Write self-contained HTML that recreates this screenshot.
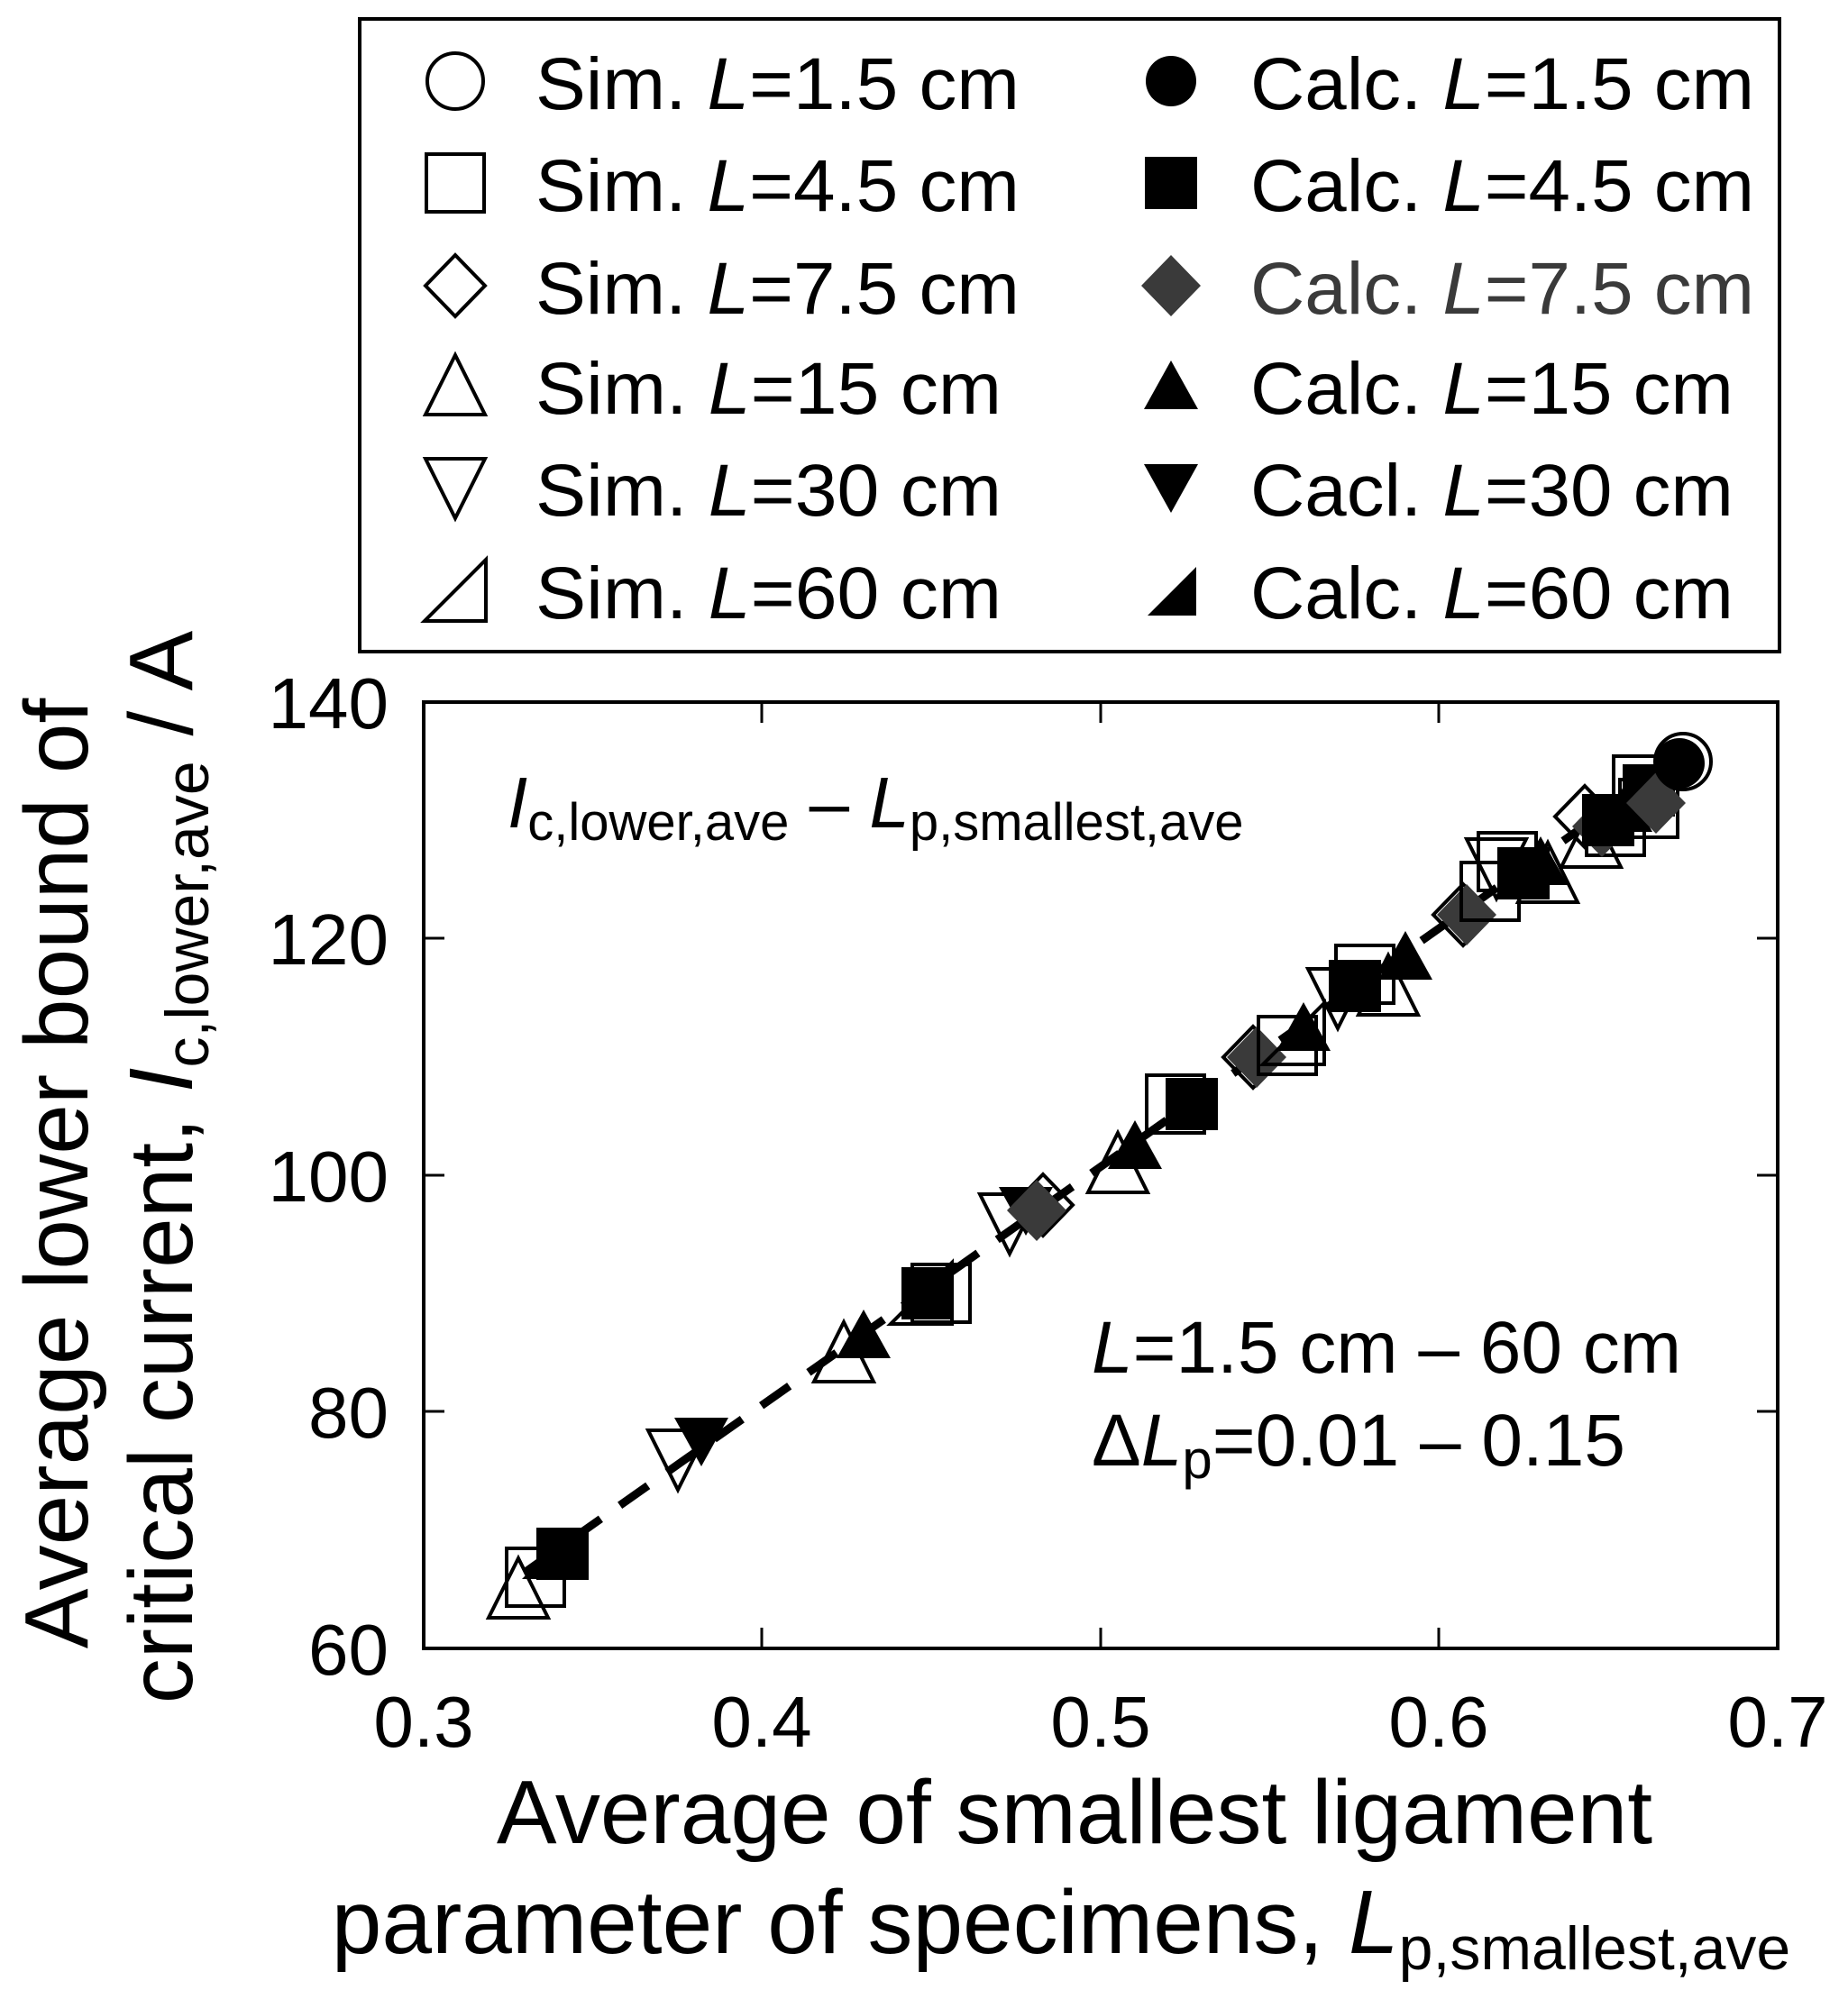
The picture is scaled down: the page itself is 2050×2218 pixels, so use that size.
<!DOCTYPE html>
<html><head><meta charset="utf-8"><style>html,body{margin:0;padding:0;background:#fff}svg{display:block}text{font-family:"Liberation Sans",Arial,sans-serif;fill:#000}</style></head>
<body>
<svg width="2050" height="2218" viewBox="0 0 2050 2218" xmlns="http://www.w3.org/2000/svg">
<defs>
<circle id="oc" r="31" fill="#fff" stroke="#000" stroke-width="4"/>
<circle id="fc" r="28" fill="#000"/>
<rect id="os" x="-32" y="-32" width="64" height="64" fill="none" stroke="#000" stroke-width="4"/>
<rect id="fs" x="-29" y="-29" width="58" height="58" fill="#000"/>
<polygon id="od" points="0,-34 33,0 0,34 -33,0" fill="none" stroke="#000" stroke-width="4"/>
<polygon id="fd" points="0,-34 33,0 0,34 -33,0" fill="#3a3a3a"/>
<polygon id="ou" points="0,-34 33,32 -33,32" fill="none" stroke="#000" stroke-width="4"/>
<polygon id="fu" points="0,-28 30,26 -30,26" fill="#000"/>
<polygon id="ov" points="0,34 33,-32 -33,-32" fill="none" stroke="#000" stroke-width="4"/>
<polygon id="fv" points="0,28 30,-26 -30,-26" fill="#000"/>
<polygon id="or" points="-34,34 34,34 34,-34" fill="none" stroke="#000" stroke-width="4"/>
<polygon id="fr" points="-26,28 28,28 28,-26" fill="#000"/>
</defs>

<!-- Legend -->
<rect x="399" y="21" width="1575" height="702" fill="#fff" stroke="#000" stroke-width="4"/>
<use href="#oc" x="505" y="90"/><use href="#os" x="505" y="203"/><use href="#od" x="505" y="317"/>
<use href="#ou" x="505" y="428"/><use href="#ov" x="505" y="541"/><use href="#or" x="505" y="655"/>
<use href="#fc" x="1299" y="90"/><use href="#fs" x="1299" y="203"/><use href="#fd" x="1299" y="317"/>
<use href="#fu" x="1299" y="428"/><use href="#fv" x="1299" y="541"/><use href="#fr" x="1299" y="655"/>
<g font-size="82">
<text x="594" y="121" textLength="537" lengthAdjust="spacingAndGlyphs">Sim. <tspan font-style="italic">L</tspan>=1.5 cm</text>
<text x="594" y="234" textLength="537" lengthAdjust="spacingAndGlyphs">Sim. <tspan font-style="italic">L</tspan>=4.5 cm</text>
<text x="594" y="348" textLength="537" lengthAdjust="spacingAndGlyphs">Sim. <tspan font-style="italic">L</tspan>=7.5 cm</text>
<text x="594" y="459" textLength="517" lengthAdjust="spacingAndGlyphs">Sim. <tspan font-style="italic">L</tspan>=15 cm</text>
<text x="594" y="572" textLength="517" lengthAdjust="spacingAndGlyphs">Sim. <tspan font-style="italic">L</tspan>=30 cm</text>
<text x="594" y="686" textLength="517" lengthAdjust="spacingAndGlyphs">Sim. <tspan font-style="italic">L</tspan>=60 cm</text>
<text x="1387" y="121" textLength="559" lengthAdjust="spacingAndGlyphs">Calc. <tspan font-style="italic">L</tspan>=1.5 cm</text>
<text x="1387" y="234" textLength="559" lengthAdjust="spacingAndGlyphs">Calc. <tspan font-style="italic">L</tspan>=4.5 cm</text>
<text x="1387" y="348" textLength="559" lengthAdjust="spacingAndGlyphs" style="fill:#3a3a3a">Calc. <tspan font-style="italic" style="fill:#3a3a3a">L</tspan>=7.5 cm</text>
<text x="1387" y="459" textLength="536" lengthAdjust="spacingAndGlyphs">Calc. <tspan font-style="italic">L</tspan>=15 cm</text>
<text x="1387" y="572" textLength="536" lengthAdjust="spacingAndGlyphs">Cacl. <tspan font-style="italic">L</tspan>=30 cm</text>
<text x="1387" y="686" textLength="536" lengthAdjust="spacingAndGlyphs">Calc. <tspan font-style="italic">L</tspan>=60 cm</text>
</g>

<!-- Axes frame -->
<rect x="470" y="779" width="1502" height="1050" fill="none" stroke="#000" stroke-width="4"/>
<g stroke="#000" stroke-width="3">
<line x1="845" y1="1829" x2="845" y2="1806"/><line x1="1221" y1="1829" x2="1221" y2="1806"/><line x1="1596" y1="1829" x2="1596" y2="1806"/>
<line x1="845" y1="779" x2="845" y2="802"/><line x1="1221" y1="779" x2="1221" y2="802"/><line x1="1596" y1="779" x2="1596" y2="802"/>
<line x1="470" y1="1041" x2="493" y2="1041"/><line x1="470" y1="1304" x2="493" y2="1304"/><line x1="470" y1="1566" x2="493" y2="1566"/>
<line x1="1972" y1="1041" x2="1949" y2="1041"/><line x1="1972" y1="1304" x2="1949" y2="1304"/><line x1="1972" y1="1566" x2="1949" y2="1566"/>
</g>
<g font-size="80" text-anchor="end">
<text x="431" y="808">140</text><text x="431" y="1070">120</text><text x="431" y="1333">100</text><text x="431" y="1595">80</text><text x="431" y="1858">60</text>
</g>
<g font-size="80" text-anchor="middle">
<text x="470" y="1938">0.3</text><text x="845" y="1938">0.4</text><text x="1221" y="1938">0.5</text><text x="1596" y="1938">0.6</text><text x="1972" y="1938">0.7</text>
</g>

<!-- Axis titles -->
<text x="1192" y="2045" font-size="100" text-anchor="middle">Average of smallest ligament</text>
<text x="1177" y="2167" font-size="100" text-anchor="middle">parameter of specimens, <tspan font-style="italic">L</tspan><tspan font-size="68" dy="18">p,smallest,ave</tspan></text>
<text transform="translate(97,1302) rotate(-90)" font-size="100" text-anchor="middle">Average lower bound of</text>
<text transform="translate(213,1295) rotate(-90)" font-size="100" text-anchor="middle">critical current, <tspan font-style="italic">I</tspan><tspan font-size="68" dy="18">c,lower,ave</tspan><tspan dy="-18"> / A</tspan></text>

<!-- Annotations -->
<text x="563" y="918" font-size="80"><tspan font-style="italic">I</tspan><tspan font-size="58" dy="14">c,lower,ave</tspan><tspan dy="-14"> – </tspan><tspan font-style="italic">L</tspan><tspan font-size="58" dy="14">p,smallest,ave</tspan></text>
<text x="1211" y="1523" font-size="82"><tspan font-style="italic">L</tspan>=1.5 cm – 60 cm</text>
<text x="1211" y="1626" font-size="82">Δ<tspan font-style="italic">L</tspan><tspan font-size="60" dy="14">p</tspan><tspan dy="-14">=0.01 – 0.15</tspan></text>

<!-- Dashed fit line -->
<line x1="583" y1="1744" x2="1859" y2="845" stroke="#000" stroke-width="9" stroke-dasharray="38,26"/>

<!-- Data -->
<use href="#ou" x="575" y="1763"/><use href="#os" x="594" y="1750"/><use href="#fr" x="605" y="1724"/><use href="#fs" x="624" y="1724"/>
<use href="#ov" x="752" y="1619"/><use href="#fv" x="778" y="1599"/>
<use href="#ou" x="936" y="1501"/><use href="#fu" x="958" y="1481"/>
<use href="#or" x="1022" y="1435"/><use href="#os" x="1044" y="1435"/><use href="#fs" x="1029" y="1435"/>
<use href="#ov" x="1120" y="1357"/><use href="#fv" x="1138" y="1343"/><use href="#od" x="1157" y="1337"/><use href="#fd" x="1150" y="1343"/>
<use href="#ou" x="1240" y="1291"/><use href="#fu" x="1259" y="1271"/>
<use href="#os" x="1304" y="1225"/><use href="#fs" x="1322" y="1225"/>
<use href="#od" x="1390" y="1173"/><use href="#fd" x="1394" y="1173"/>
<use href="#os" x="1428" y="1160"/><use href="#or" x="1435" y="1147"/><use href="#fu" x="1446" y="1140"/>
<use href="#ov" x="1484" y="1107"/><use href="#os" x="1514" y="1081"/><use href="#fs" x="1503" y="1094"/><use href="#ou" x="1540" y="1094"/><use href="#fu" x="1559" y="1061"/>
<use href="#od" x="1623" y="1015"/><use href="#fd" x="1627" y="1015"/><use href="#os" x="1653" y="989"/><use href="#ov" x="1660" y="963"/><use href="#os" x="1672" y="956"/><use href="#fs" x="1690" y="969"/><use href="#ou" x="1717" y="969"/><use href="#fu" x="1709" y="956"/>
<use href="#od" x="1758" y="906"/><use href="#ou" x="1765" y="930"/><use href="#os" x="1792" y="917"/><use href="#fd" x="1777" y="917"/><use href="#fs" x="1784" y="910"/><use href="#fu" x="1803" y="897"/>
<use href="#os" x="1829" y="897"/><use href="#os" x="1822" y="871"/><use href="#fs" x="1829" y="877"/><use href="#fd" x="1837" y="891"/>
<use href="#oc" x="1867" y="845"/><use href="#fc" x="1863" y="847"/>
</svg>
</body></html>
